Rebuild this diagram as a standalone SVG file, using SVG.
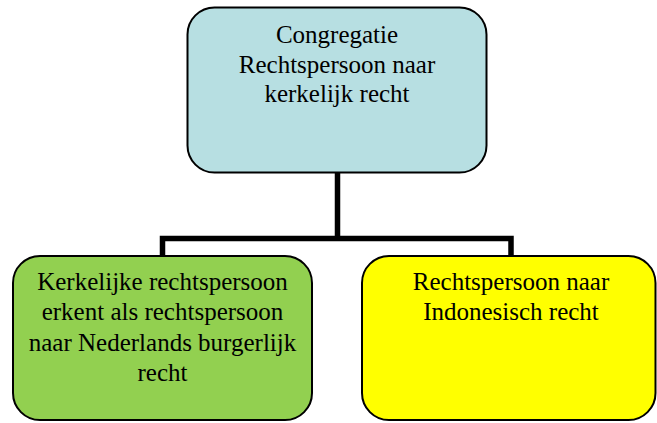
<svg xmlns="http://www.w3.org/2000/svg" width="657" height="423" viewBox="0 0 657 423">
<style>
.box{stroke:#000;stroke-width:2}
.lbl{font-family:"Liberation Serif","Times New Roman",serif;font-size:25px;fill:#000;text-anchor:middle}
.conn{fill:none;stroke:#000;stroke-width:5.5;stroke-linejoin:miter}
</style>
<rect width="657" height="423" fill="#fff"/>
<g id="connectors">
<path class="conn" d="M337.5 173 V238.5"/>
<path class="conn" d="M162.5 256 V238.5 H511 V256"/>
</g>
<g id="node-congregatie">
<rect class="box" x="187.5" y="7.5" width="299" height="165" rx="27" ry="27" fill="#B7DFE2"/>
<text class="lbl" x="337" y="43">Congregatie</text>
<text class="lbl" x="337" y="72.5">Rechtspersoon naar</text>
<text class="lbl" x="337" y="102">kerkelijk recht</text>
</g>
<g id="node-kerkelijk">
<rect class="box" x="13" y="256" width="299" height="164" rx="27" ry="27" fill="#92D050"/>
<text class="lbl" x="162.5" y="289.5">Kerkelijke rechtspersoon</text>
<text class="lbl" x="162.5" y="320">erkent als rechtspersoon</text>
<text class="lbl" x="162.5" y="350.5">naar Nederlands burgerlijk</text>
<text class="lbl" x="162.5" y="381">recht</text>
</g>
<g id="node-indonesisch">
<rect class="box" x="362" y="256" width="293.5" height="164" rx="27" ry="27" fill="#FFFF00"/>
<text class="lbl" x="511" y="289.5">Rechtspersoon naar</text>
<text class="lbl" x="511" y="320">Indonesisch recht</text>
</g>
</svg>
